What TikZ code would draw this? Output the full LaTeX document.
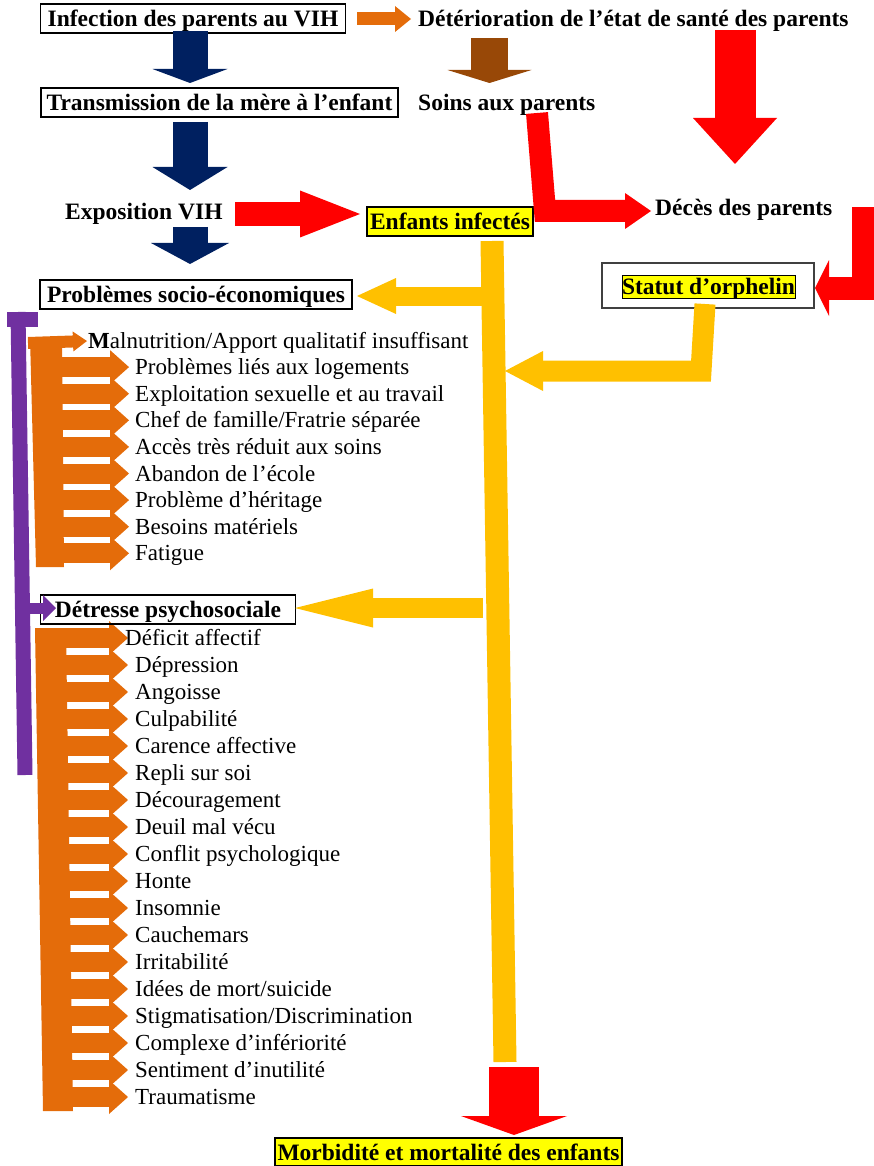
\documentclass[tikz,border=0pt]{standalone}
\usepackage{fontspec}
\setmainfont{Liberation Serif}
\usetikzlibrary{arrows.meta}
\definecolor{cnavy}{HTML}{002060}
\definecolor{cbrown}{HTML}{984807}
\definecolor{cred}{HTML}{FF0000}
\definecolor{corange}{HTML}{E46C0A}
\definecolor{cgold}{HTML}{FFC000}
\definecolor{cpurple}{HTML}{7030A0}
\definecolor{chl}{HTML}{FFFF00}
\newcommand\bfs{\fontsize{23.5}{28}\selectfont\bfseries}
\newcommand\rgs{\fontsize{23}{27}\selectfont}
\pgfdeclarelayer{bg}
\pgfsetlayers{bg,main}
\tikzset{
  barrow/.style n args={4}{draw=#1, line width=#2, line cap=butt, line join=miter, -{Triangle[width=#3,length=#4,line width=0pt]}},
  comb/.style={barrow={corange}{20pt}{34pt}{19pt}},
  bbox/.style={draw=black, line width=1.6pt, font=\bfs, inner sep=0pt, text height=19.5pt, text depth=3.5pt},
  btxt/.style={font=\bfs, inner sep=0pt, anchor=west, text height=19.5pt, text depth=3.5pt},
  item/.style={font=\rgs, inner sep=0pt, anchor=west, text height=18.5pt, text depth=3.5pt},
}
\begin{document}
\begin{tikzpicture}[x=1pt,y=-1pt]
\useasboundingbox (0,0) rectangle (874,1166);

% ---- text nodes ----
\node[bbox, minimum width=305pt, minimum height=29pt] (inf) at (193,18.5) {Infection des parents au VIH};
\node[btxt] (det) at (418,19) {Détérioration de l’état de santé des parents};
\node[bbox, minimum width=357pt, minimum height=29pt] (trans) at (219.5,102.5) {Transmission de la mère à l’enfant};
\node[btxt] (soins) at (418,103) {Soins aux parents};
\node[btxt] (expo) at (65,212) {Exposition VIH};
\node[bbox, fill=chl, minimum width=166pt, minimum height=29pt] (enf) at (450,221.5) {Enfants infectés};
\node[btxt] (deces) at (655,208) {Décès des parents};
\node[draw=black!75, line width=1.2pt, minimum width=212pt, minimum height=45pt, inner sep=0pt] (orphbox) at (708,285.5) {};
\node[font=\bfs, fill=chl, draw=black, line width=1pt, inner sep=0pt, text height=19.5pt, text depth=3.5pt, minimum width=173pt] (orph) at (708.5,286.5) {Statut d’orphelin};
\node[bbox, minimum width=312pt, minimum height=29pt] (pse) at (196,294.5) {Problèmes socio-économiques};
\node[bbox, minimum width=255pt, minimum height=29pt] (dps) at (168,609.5) {Détresse psychosociale};
\node[bbox, fill=chl, minimum width=347pt, minimum height=28pt] (morb) at (448.5,1152) {Morbidité et mortalité des enfants};

% ---- block arrows, top part ----
\draw[barrow={corange}{13pt}{26pt}{16pt}] (357,19) -- (det.west -| 411,0);
\draw[barrow={cnavy}{35pt}{75pt}{14pt}] (190,31) -- (190,83);
\draw[barrow={cnavy}{35pt}{75pt}{23pt}] (190,122) -- (190,190);
\draw[barrow={cnavy}{35pt}{78pt}{21pt}] (190,227) -- (190,264);
\draw[barrow={cbrown}{37pt}{84pt}{13pt}] (489.5,38) -- (489.5,83);
\draw[barrow={cred}{41pt}{84pt}{46pt}] (735,30) -- (735,164);
\draw[barrow={cred}{24pt}{47pt}{60pt}] (235,214) -- (360,214);
\draw[barrow={cred}{22pt}{36pt}{26pt}] (537,113) -- (545,211) -- (651,211);
\draw[barrow={cred}{23pt}{56pt}{14pt}] (863,207) -- (863,288) -- (815,288);

% ---- gold arrows ----
\draw[cgold, line width=23pt] (492,241) -- (505,1062);
\draw[barrow={cgold}{21pt}{40pt}{38pt}] (705,304) -- (701,371) -- (505,371);
\draw[barrow={cgold}{19pt}{36pt}{39pt}] (482,296) -- (357,296);
\draw[barrow={cgold}{20pt}{39pt}{78pt}] (483,608) -- (295,608);
\draw[barrow={cred}{50pt}{106pt}{19pt}] (514,1067) -- (514,1135);

% ---- purple bracket ----
\fill[cpurple] (7,312) rectangle (38,327);
\draw[cpurple, line width=15pt] (18,312) -- (25,775);
\draw[barrow={cpurple}{11pt}{26pt}{13pt}] (25,608) -- (56,608);

% ---- orange comb, group 1 ----
\coordinate (b1) at (55,0);
\coordinate (b2) at (60,0);
\coordinate (t2) at (128,0);
\begin{pgfonlayer}{bg}
\fill[corange] (30,337) -- (62,337) -- (64,567) -- (36,567) -- cycle;
\fill[corange] (35,628) -- (66,628) -- (73,1111) -- (43,1111) -- cycle;
\end{pgfonlayer}
\node[item] (m0) at (88,341) {\textbf{M}alnutrition/Apport qualitatif insuffisant};
\draw[barrow={corange}{12pt}{20pt}{14pt}] (28,343) -- ([xshift=-1pt]m0.west);
\foreach \t [count=\i] in {Problèmes liés aux logements,Exploitation sexuelle et au travail,Chef de famille/Fratrie séparée,Accès très réduit aux soins,Abandon de l’école,Problème d’héritage,Besoins matériels,Fatigue}{
  \pgfmathsetmacro\yy{340.5+26.6*\i}
  \node[item] (pa\i) at (135,\yy) {\t};
  \begin{pgfonlayer}{bg}
  \draw[comb] (pa\i.west -| b1) -- ([xshift=-6pt]pa\i.west);
  \end{pgfonlayer}
}

% ---- orange comb, group 2 ----
\node[item] (pb0) at (125,638) {Déficit affectif};
\begin{pgfonlayer}{bg}
\draw[comb] (pb0.west -| b2) -- (pb0.west -| t2);
\end{pgfonlayer}
\foreach \t [count=\i] in {Dépression,Angoisse,Culpabilité,Carence affective,Repli sur soi,Découragement,Deuil mal vécu,Conflit psychologique,Honte,Insomnie,Cauchemars,Irritabilité,Idées de mort/suicide,Stigmatisation/Discrimination,Complexe d’infériorité,Sentiment d’inutilité,Traumatisme}{
  \pgfmathsetmacro\yy{638+27*\i}
  \node[item] (pb\i) at (135,\yy) {\t};
  \begin{pgfonlayer}{bg}
  \draw[comb] (pb\i.west -| b2) -- (pb\i.west -| t2);
  \end{pgfonlayer}
}
\end{tikzpicture}
\end{document}
